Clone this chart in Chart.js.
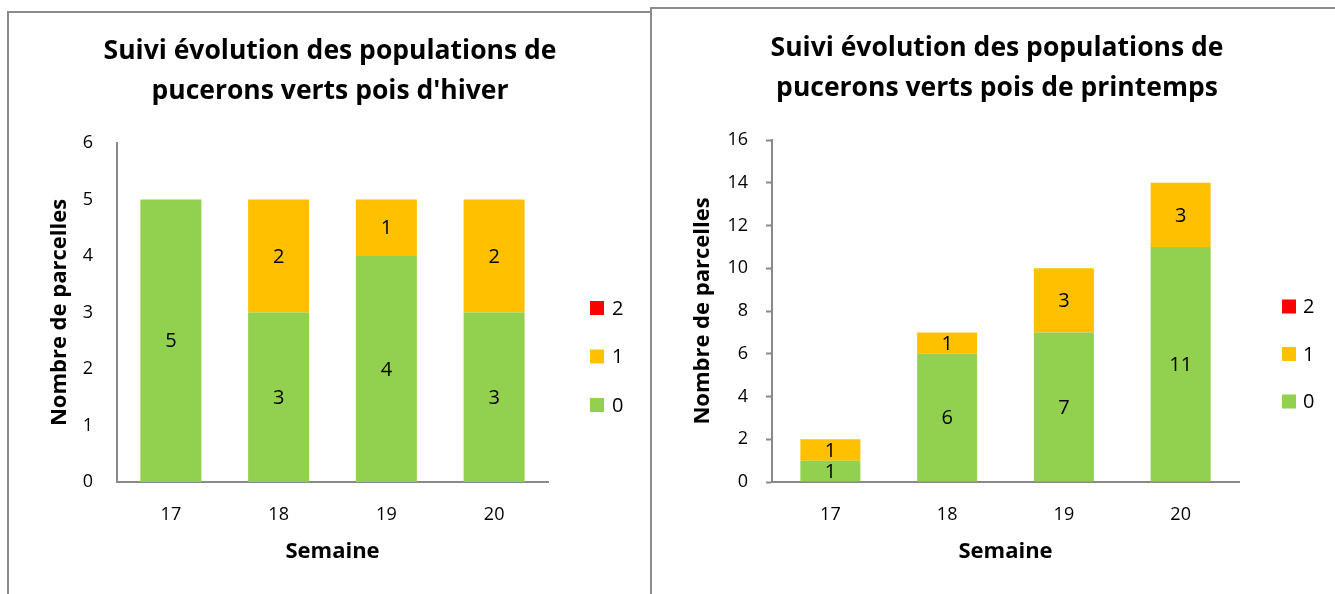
<!DOCTYPE html>
<html>
<head>
<meta charset="utf-8">
<script src="https://cdn.jsdelivr.net/npm/chart.js@4.4.1/dist/chart.umd.min.js"></script>
<style>
  html, body { margin: 0; padding: 0; background: #fff; width: 1335px; height: 594px; overflow: hidden; }
  .box { position: absolute; box-sizing: border-box; border: 2px solid #8c8c8c; background: transparent; }
  #box1 { left: 7px; top: 11px; width: 645px; height: 620px; }
  #box2 { left: 650px; top: 7px; width: 720px; height: 620px; }
  .wrap { position: absolute; top: 0; height: 594px; }
  #wrap1 { left: 7px; width: 646px; }
  #wrap2 { left: 655px; width: 684px; }
  canvas { display: block; }
</style>
</head>
<body>
<div class="box" id="box1"></div>
<div class="box" id="box2"></div>
<div class="wrap" id="wrap1"><canvas id="c1" width="646" height="594"></canvas></div>
<div class="wrap" id="wrap2"><canvas id="c2" width="684" height="594"></canvas></div>
<script>
// ---- data ----
const weeks = ['17', '18', '19', '20'];
const seriesLabels = ['0', '1', '2'];

const hiverLevel0 = [5, 3, 4, 3];
const hiverLevel1 = [0, 2, 1, 2];
const hiverLevel2 = [0, 0, 0, 0];

const printempsLevel0 = [1, 6, 7, 11];
const printempsLevel1 = [1, 1, 3, 3];
const printempsLevel2 = [0, 0, 0, 0];

const titleHiver = ['Suivi évolution des populations de', "pucerons verts pois d'hiver"];
const titlePrintemps = ['Suivi évolution des populations de', 'pucerons verts pois de printemps'];
const yAxisTitle = 'Nombre de parcelles';
const xAxisTitle = 'Semaine';

// ---- styles ----
const colors = ['#92D050', '#FFC000', '#FF0000'];
const FONT = '"Open Sans", Lato, sans-serif';
const axisGray = '#898989';

// data labels inside segments
const segmentLabels = {
  id: 'segmentLabels',
  afterDatasetsDraw(chart) {
    const ctx = chart.ctx;
    ctx.save();
    ctx.font = '20px ' + FONT;
    ctx.fillStyle = '#000';
    ctx.textAlign = 'center';
    ctx.textBaseline = 'middle';
    chart.data.datasets.forEach((ds, di) => {
      const meta = chart.getDatasetMeta(di);
      if (meta.hidden) return;
      meta.data.forEach((el, i) => {
        const v = ds.data[i];
        if (!v) return;
        const p = el.getProps(['x', 'y', 'base'], true);
        ctx.fillText(String(v), p.x, (p.y + p.base) / 2 + 1);
      });
    });
    ctx.restore();
  }
};

// legend: a fixed-width layout box on the right, items drawn top-to-bottom "2", "1", "0"
function makeSideLegend(cfg) {
  return {
    id: 'sideLegend',
    beforeInit(chart) {
      const W = cfg.boxWidth;
      Chart.layouts.addBox(chart, {
        position: 'right', weight: 0, fullSize: false,
        options: {},
        width: W, height: 0,
        isHorizontal() { return false; },
        update(maxW, maxH) { this.width = W; this.height = maxH; },
        draw() {}
      });
    },
    afterDraw(chart) {
      const ctx = chart.ctx;
      ctx.save();
      ctx.font = '20px ' + FONT;
      ctx.textAlign = 'left';
      ctx.textBaseline = 'middle';
      const order = chart.data.datasets.map((d, i) => i).reverse();
      order.forEach((di, k) => {
        const ds = chart.data.datasets[di];
        const cy = cfg.y0 + k * cfg.step;
        ctx.fillStyle = ds.backgroundColor;
        ctx.fillRect(cfg.x, cy - cfg.size / 2, cfg.size, cfg.size);
        ctx.fillStyle = '#000';
        ctx.fillText(ds.label, cfg.x + cfg.size + cfg.gap, cy + 1);
      });
      ctx.restore();
    }
  };
}

function makeChart(canvasId, titleLines, d0, d1, d2, cfg) {
  return new Chart(document.getElementById(canvasId), {
    type: 'bar',
    data: {
      labels: weeks,
      datasets: [
        { label: seriesLabels[0], data: d0, backgroundColor: colors[0] },
        { label: seriesLabels[1], data: d1, backgroundColor: colors[1] },
        { label: seriesLabels[2], data: d2, backgroundColor: colors[2] }
      ]
    },
    options: {
      responsive: false,
      animation: false,
      events: [],
      layout: { padding: 0 },
      datasets: { bar: { categoryPercentage: 1, barPercentage: cfg.barPct, borderWidth: 0 } },
      plugins: {
        legend: { display: false },
        tooltip: { enabled: false },
        title: {
          display: true,
          text: titleLines,
          color: '#000',
          font: { family: FONT, size: 26.5, weight: 'bold', lineHeight: 40 / 26.5 },
          padding: { top: cfg.titleTop, bottom: cfg.titleBottom }
        }
      },
      scales: {
        x: {
          stacked: true,
          grid: { display: true, drawOnChartArea: false, drawTicks: false },
          border: { display: true, color: axisGray, width: 2 },
          ticks: { color: '#000', font: { family: FONT, size: 18 }, padding: 22 },
          title: {
            display: true, text: xAxisTitle, color: '#000',
            font: { family: FONT, size: 22, weight: 'bold' },
            padding: { top: 0, bottom: 29 }
          },
          afterFit(s) { s.height = 112; }
        },
        y: {
          stacked: true,
          min: 0, max: cfg.yMax,
          grid: { display: cfg.yTicks, drawOnChartArea: false, drawTicks: cfg.yTicks, tickLength: 6, color: axisGray, tickWidth: 2 },
          border: { display: true, color: axisGray, width: 2 },
          ticks: { stepSize: cfg.yStep, color: '#000', font: { family: FONT, size: 18 }, padding: cfg.yTickPad },
          title: {
            display: true, text: yAxisTitle, color: '#000',
            font: { family: FONT, size: 22, weight: 'bold' },
            padding: { top: cfg.yTitlePad, bottom: 0 }
          },
          afterFit(s) { s.width = cfg.yWidth; }
        }
      }
    },
    plugins: [segmentLabels, makeSideLegend(cfg.legend)]
  });
}

makeChart('c1', titleHiver, hiverLevel0, hiverLevel1, hiverLevel2, {
  barPct: 0.566, titleTop: 31, titleBottom: 32,
  yMax: 6, yStep: 1, yTicks: false, yTickPad: 24, yTitlePad: 40, yWidth: 110,
  legend: { boxWidth: 105, x: 583, y0: 308, step: 48.5, size: 14, gap: 8 }
});

makeChart('c2', titlePrintemps, printempsLevel0, printempsLevel1, printempsLevel2, {
  barPct: 0.514, titleTop: 28, titleBottom: 32,
  yMax: 16, yStep: 2, yTicks: true, yTickPad: 18, yTitlePad: 35, yWidth: 117,
  legend: { boxWidth: 100, x: 627, y0: 306.5, step: 47.5, size: 14, gap: 7 }
});
</script>
</body>
</html>
